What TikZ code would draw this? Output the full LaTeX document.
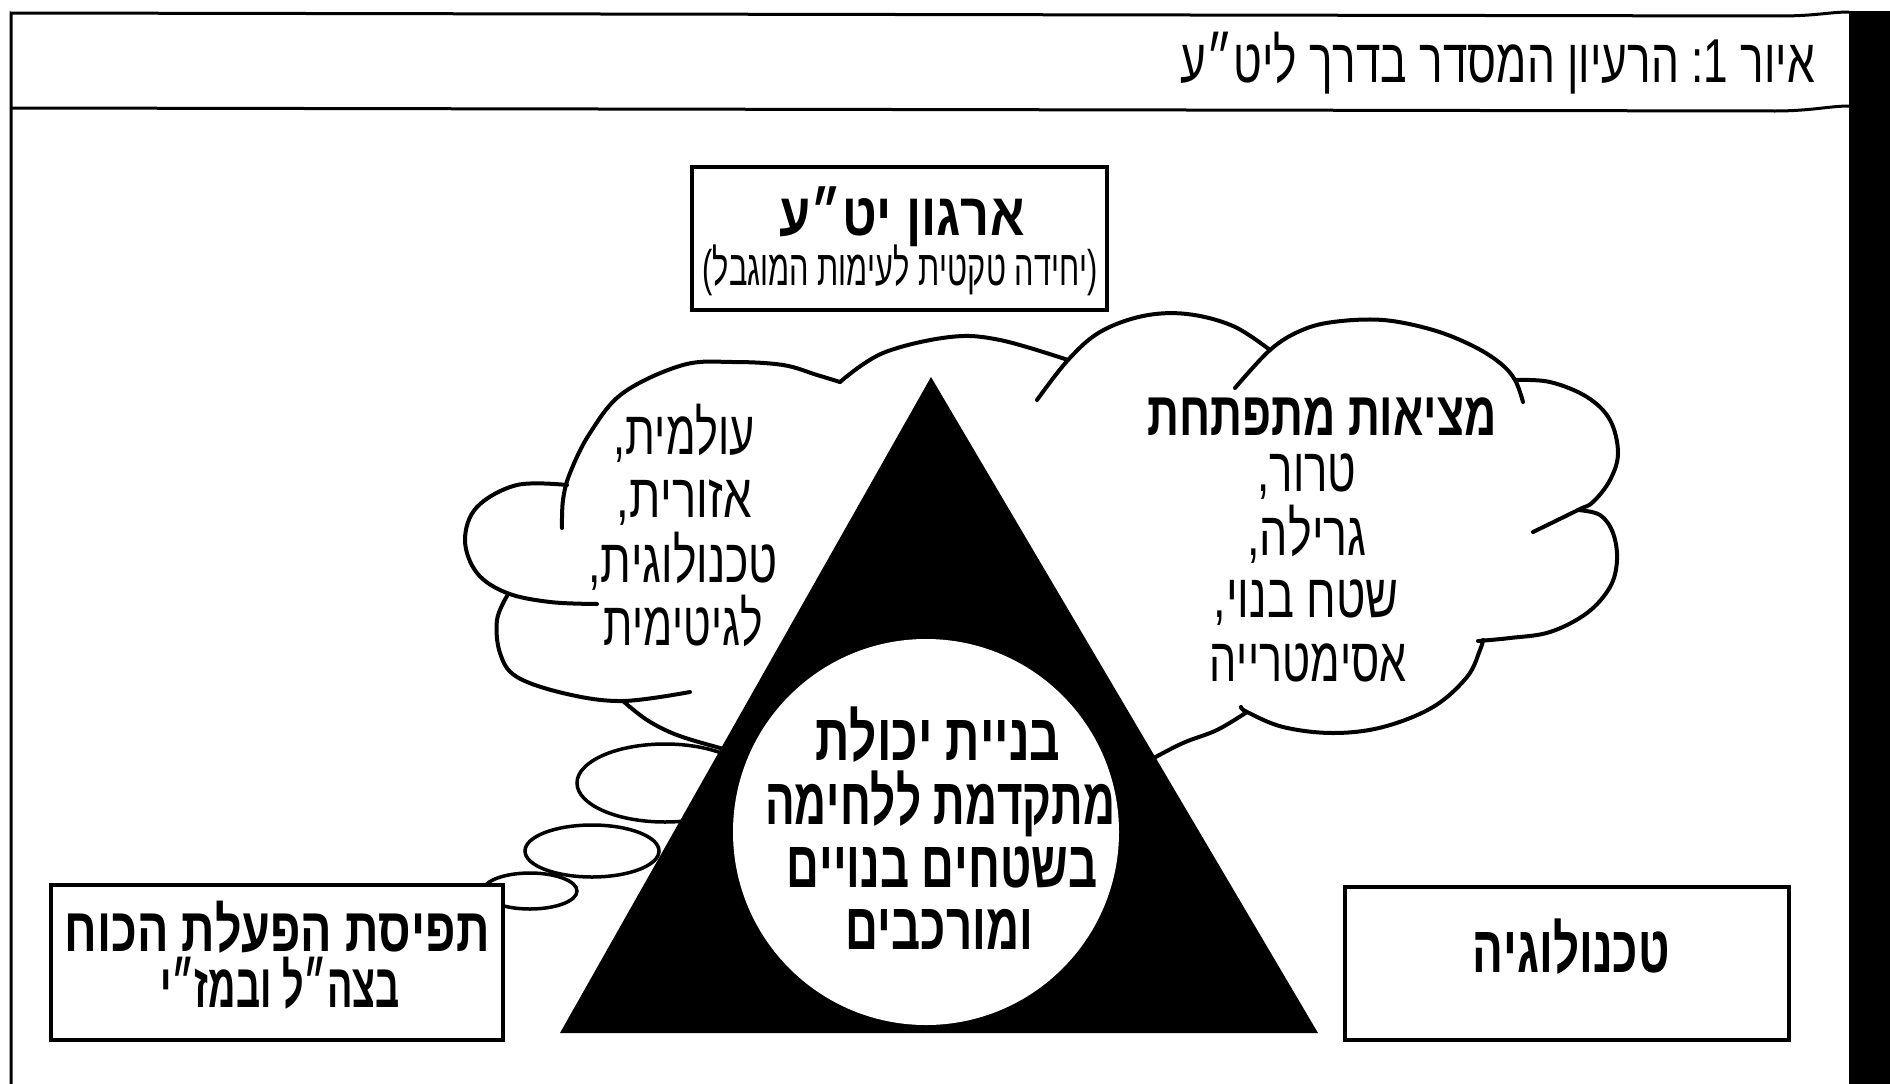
\documentclass[tikz,border=0pt]{standalone}
\usepackage{fontspec}
\usepackage{graphicx}
\setmainfont{Liberation Sans}
\TeXXeTstate=1
\newlength\natw
\newcommand\fitw[2]{\settowidth\natw{#2}\scalebox{\fpeval{#1/\natw}}[1]{#2}}
\newcommand\fs[1]{\fontsize{#1}{#1}\selectfont}
\tikzset{
  txt/.style={inner sep=0pt, anchor=base},
  cloudline/.style={line width=4pt, line cap=round, line join=round},
  bubble/.style={line width=3.5pt},
  boxnode/.style={draw, line width=3.5pt, fill=white, inner sep=0pt},
  frameline/.style={line width=3pt}
}
\begin{document}
\begin{tikzpicture}[x=1pt,y=-1pt]
\useasboundingbox (0,0) rectangle (1890,1084);
% frame
\draw[frameline] (11,1084) -- (11,13) -- (1780,16) .. controls (1815,16) and (1830,12) .. (1849,12);
\draw[frameline] (11,108) -- (1775,111) .. controls (1810,111) and (1830,106) .. (1849,106);
\fill (1849,11) rectangle (1890,1084);
\node[txt, anchor=base east, font=\fs{62}] (title) at (1815,82)
  {\fitw{634}{\beginR איור \hbox{1}\hbox{:} הרעיון המסדר בדרך ליט״ע\endR}};
% left cloud
\draw[cloudline] plot[smooth, tension=0.6] coordinates {(562,528) (563,500) (570,473) (590,433) (623,393) (683,365) (733,362) (783,365) (817,375) (840,382)};
\draw[cloudline] plot[smooth, tension=0.6] coordinates {(840,382) (883,353) (950,337) (1000,340) (1068,360)};
\draw[cloudline] plot[smooth, tension=0.6] coordinates {(567,485) (517,485) (477,507) (465,540) (477,573) (507,593) (550,602) (597,604)};
\draw[cloudline] plot[smooth, tension=0.6] coordinates {(507,596) (497,620) (500,653) (517,677) (567,694) (623,701) (690,692)};
\draw[cloudline] plot[smooth, tension=0.6] coordinates {(623,701) (647,720) (677,735) (720,748) (740,753)};
% right cloud
\draw[cloudline] plot[smooth, tension=0.6] coordinates {(1037,400) (1068,360) (1100,332) (1143,316) (1187,314) (1233,326) (1270,350)};
\draw[cloudline] plot[smooth, tension=0.6] coordinates {(1235,388) (1270,350) (1300,331) (1333,322) (1383,320) (1433,330) (1473,346) (1500,363) (1515,380) (1523,402)};
\draw[cloudline] plot[smooth, tension=0.6] coordinates {(1515,380) (1550,382) (1587,397) (1610,420) (1618,453) (1610,480) (1593,502) (1578,510) (1533,532)};
\draw[cloudline] plot[smooth, tension=0.6] coordinates {(1578,510) (1600,515) (1613,533) (1617,560) (1610,587) (1587,613) (1550,632) (1510,638) (1478,641)};
\draw[cloudline] plot[smooth, tension=0.6] coordinates {(1483,640) (1480,650) (1467,677) (1433,707) (1383,727) (1333,733) (1283,727) (1247,712) (1241,707)};
\draw[cloudline] plot[smooth, tension=0.6] coordinates {(1247,712) (1217,730) (1183,743) (1150,760) (1135,768)};
% thought bubbles
\draw[bubble] (665,783) ellipse [x radius=88, y radius=39];
\draw[bubble] (592,851) ellipse [x radius=67, y radius=26];
\draw[bubble] (530,891) ellipse [x radius=47, y radius=18];
% triangle and core circle
\fill (931,377) -- (560,1033) -- (1318,1033) -- cycle;
\node[circle, fill=white, minimum size=386pt, inner sep=0pt] (core) at (926,832) {};
% boxes
\node[boxnode, minimum width=415pt, minimum height=143pt] (orgbox) at (899.5,238.5) {};
\node[boxnode, minimum width=452pt, minimum height=155pt] (forcebox) at (277,962.5) {};
\node[boxnode, minimum width=444pt, minimum height=153pt] (techbox) at (1567,963.5) {};
% texts
\node[txt, font=\bfseries\fs{60}] (org1) at (902,235) {\fitw{245}{\beginR ארגון יט״ע\endR}};
\node[txt, font=\fs{50}] (org2) at (900,285) {\fitw{395}{\beginR (יחידה טקטית לעימות המוגבל)\endR}};
\node[txt, font=\fs{62}] (lc1) at (684,454) {\fitw{142}{\beginR עולמית,\endR}};
\node[txt, font=\fs{62}] (lc2) at (684,517) {\fitw{135}{\beginR אזורית,\endR}};
\node[txt, font=\fs{62}] (lc3) at (683,582) {\fitw{190}{\beginR טכנולוגית,\endR}};
\node[txt, font=\fs{62}] (lc4) at (683,645) {\fitw{160}{\beginR לגיטימית\endR}};
\node[txt, font=\bfseries\fs{62}] (rc0) at (1322,435) {\fitw{349}{\beginR מציאות מתפתחת\endR}};
\node[txt, font=\fs{62}] (rc1) at (1307,491) {\fitw{99}{\beginR טרור,\endR}};
\node[txt, font=\fs{62}] (rc2) at (1307,555) {\fitw{119}{\beginR גרילה,\endR}};
\node[txt, font=\fs{62}] (rc3) at (1306,617) {\fitw{185}{\beginR שטח בנוי,\endR}};
\node[txt, font=\fs{62}] (rc4) at (1308,681) {\fitw{197}{\beginR אסימטרייה\endR}};
\node[txt, font=\bfseries\fs{66}] (cc1) at (938,760) {\fitw{245}{\beginR בניית יכולת\endR}};
\node[txt, font=\bfseries\fs{66}] (cc2) at (940,824) {\fitw{350}{\beginR מתקדמת ללחימה\endR}};
\node[txt, font=\bfseries\fs{66}] (cc3) at (942,887) {\fitw{311}{\beginR בשטחים בנויים\endR}};
\node[txt, font=\bfseries\fs{66}] (cc4) at (939,949) {\fitw{188}{\beginR ומורכבים\endR}};
\node[txt, font=\bfseries\fs{62}] (fb1) at (277,951) {\fitw{425}{\beginR תפיסת הפעלת הכוח\endR}};
\node[txt, font=\bfseries\fs{62}] (fb2) at (280,1007) {\fitw{240}{\beginR בצה״ל ובמז״י\endR}};
\node[txt, font=\bfseries\fs{66}] (tb1) at (1571,972) {\fitw{197}{\beginR טכנולוגיה\endR}};
\end{tikzpicture}
\end{document}
